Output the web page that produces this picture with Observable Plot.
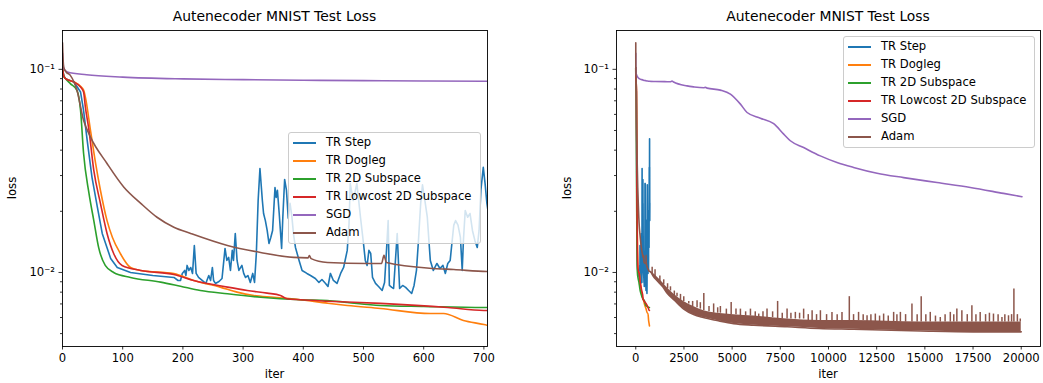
<!DOCTYPE html>
<html><head><meta charset="utf-8">
<script src="https://cdn.jsdelivr.net/npm/d3@7"></script>
<script src="https://cdn.jsdelivr.net/npm/@observablehq/plot@0.6"></script>
<style>
body{margin:0;background:#fff;font-family:"DejaVu Sans",sans-serif;color:#000;}
#wrap{position:relative;width:1043px;height:383px;overflow:hidden;background:#fff;}
.panel{position:absolute;top:0;}
.txt{position:absolute;white-space:nowrap;line-height:1;transform:translate(-50%,-50%);}
.legend{position:absolute;background:rgba(255,255,255,0.8);border:1px solid #cccccc;border-radius:3px;box-sizing:border-box;}
.legend .sw{position:absolute;height:1.6px;width:23px;}
.legend .lb{position:absolute;font-size:11.6px;line-height:1;transform:translateY(-50%);white-space:nowrap;}
</style></head>
<body><div id="wrap"></div>
<script>
// ---------- data ----------
const seriesNames = ["TR Step","TR Dogleg","TR 2D Subspace","TR Lowcost 2D Subspace","SGD","Adam"];
const seriesColors = ["#1f77b4","#ff7f0e","#2ca02c","#d62728","#9467bd","#8c564b"];
const titleText = "Autenecoder MNIST Test Loss";
const xLabel = "iter", yLabel = "loss";
const xTicksLeft = [0,100,200,300,400,500,600,700];
const xTicksRight = [0,2500,5000,7500,10000,12500,15000,17500,20000];
const yMajor = [0.01, 0.1];
const yMinor = [0.005,0.006,0.007,0.008,0.009,0.02,0.03,0.04,0.05,0.06,0.07,0.08,0.09];

const trStep = [[0,0.102],[2,0.093],[5,0.09],[19,0.0866],[30,0.0773],[35,0.0628],[41,0.0447],[49,0.0294],[58,0.0209],[66,0.01556],[80,0.01172],[91,0.01058],[113,0.01],[150,0.00966],[185,0.00945],[192,0.00913],
 [196,0.00913],[199,0.00989],[203,0.01023],[205,0.00966],[207,0.01083],[210,0.01023],[213,0.01058],[216,0.00989],[219,0.01358],[222,0.00989],[226,0.00945],[232,0.00913],[238,0.00883],[243,0.00966],[246,0.00913],[249,0.01058],[251,0.00913],[254,0.00883],[260,0.00903],[265,0.00934],[270,0.01313],[273,0.01146],[276,0.01186],[279,0.01023],[282,0.01284],[284,0.01146],[287,0.01556],[290,0.01146],[293,0.01023],[298,0.01083],[301,0.00989],[304,0.00945],[308,0.00966],[312,0.00893],[316,0.00989],[319,0.00893],[322,0.0124],[325,0.0226],[328,0.0325],[332,0.0226],[334,0.0195],[337,0.018],[340,0.0161],[343,0.01389],[346,0.01487],[349,0.0161],[353,0.0262],[355,0.0234],[357,0.0254],[360,0.0195],[364,0.01313],[366,0.0187],[369,0.0287],[372,0.0254],[375,0.0185],[378,0.0219],[381,0.0189],[384,0.01521],[387,0.01328],[393,0.01146],[398,0.01023],[406,0.00989],[412,0.00966],[420,0.00934],[426,0.00893],[431,0.00923],[437,0.00883],[441,0.00853],[445,0.00989],[450,0.00913],[456,0.00883],[462,0.00989],[467,0.01058],[473,0.01284],[476,0.0174],[478,0.0274],[483,0.0226],[489,0.0274],[495,0.0187],[500,0.01389],[503,0.01146],[506,0.01083],[509,0.01284],[512,0.0124],[515,0.00945],[520,0.00883],[525,0.00853],[531,0.00815],[535,0.00893],[538,0.0125],[541,0.018],[543,0.00863],[547,0.00844],[550,0.00834],[556,0.01556],[560,0.00834],[565,0.00863],[570,0.00844],[575,0.00815],[580,0.00788],[584,0.00863],[588,0.01023],[591,0.01389],[595,0.0219],[598,0.027],[602,0.0226],[606,0.0187],[609,0.01389],[611,0.01146],[616,0.01023],[622,0.01107],[627,0.01046],[632,0.01083],[636,0.00989],[640,0.01107],[644,0.01146],[647,0.01405],[650,0.0171],[653,0.018],[657,0.0171],[661,0.01487],[664,0.01023],[666,0.01438],[669,0.0202],[673,0.0187],[677,0.0195],[681,0.0161],[685,0.01438],[689,0.01328],[692,0.0161],[695,0.0254],[699,0.0329],[702,0.0274],[705,0.0219],[708,0.019],[712,0.028],[716,0.0455],[719,0.024],[722,0.033],[726,0.018],[730,0.022]];

const trDogleg = [[0,0.102],[2,0.093],[5,0.09],[19,0.0866],[30,0.0825],[35,0.079],[38,0.073],[46.5,0.0501],[55,0.0344],[63,0.0254],[74,0.018],[83,0.01487],[96,0.0124],[113,0.01058],[130,0.01023],[185,0.00989],[218,0.00913],[262,0.00847],[290,0.008],[318,0.0077],[351,0.00755],[395,0.00734],[440,0.00706],[473,0.00688],[528,0.00665],[611,0.00628],[633,0.00628],[666,0.0058],[700,0.00554],[710,0.00545]];

const tr2D = [[0,0.102],[2,0.093],[5,0.09],[13,0.085],[24,0.0788],[30,0.0628],[35,0.0386],[44,0.0245],[52,0.018],[60,0.01328],[71,0.01083],[85,0.01],[113,0.00945],[163,0.00896],[196,0.00855],[229,0.00815],[274,0.00785],[329,0.00755],[395,0.00734],[440,0.00728],[473,0.00712],[528,0.00688],[600,0.0068],[700,0.00672],[710,0.00672]];

const trLowcost = [[0,0.102],[2,0.093],[5,0.09],[19,0.0866],[30,0.0818],[35,0.0773],[38,0.0652],[44,0.0501],[52,0.0318],[63,0.0219],[74,0.01556],[85,0.0124],[99,0.01083],[130,0.01023],[185,0.00977],[218,0.00913],[274,0.00847],[307,0.00815],[340,0.00791],[362,0.0077],[373,0.00742],[395,0.00734],[440,0.00722],[528,0.00704],[640,0.00672],[700,0.0065],[710,0.0065]];

const sgd = [[0,0.12],[2,0.101],[8,0.097],[40,0.094],[100,0.0915],[200,0.0897],[300,0.089],[400,0.0884],[500,0.088],[600,0.0876],[700,0.0873],[935,0.0871],[1500,0.087],[1800,0.0868],[1880,0.0876],[1960,0.0866],[2660,0.0829],[3000,0.082],[3525,0.0812],[3620,0.0815],[3700,0.0808],[4390,0.079],[4910,0.0755],[5430,0.0674],[5775,0.0613],[6465,0.0575],[7155,0.054],[7675,0.048],[8020,0.0445],[8710,0.0412],[9575,0.0375],[10440,0.0348],[11300,0.0329],[12520,0.0308],[13900,0.0293],[15630,0.0277],[17360,0.0262],[19080,0.0245],[20040,0.0236]];

const adam = [[0,0.135],[1,0.112],[2,0.1026],[6,0.097],[13,0.0934],[24,0.0788],[35,0.0561],[46.5,0.0464],[74,0.0344],[102,0.0263],[130,0.0219],[157,0.0187],[185,0.0167],[213,0.01556],[274,0.01358],[329,0.01255],[384,0.01186],[408,0.0118],[410,0.0121],[413,0.0117],[440,0.0112],[506,0.01107],[530,0.01107],[534,0.01213],[538,0.0112],[617,0.01046],[650,0.01034],[706,0.01011],[762,0.0101],[900,0.0096],[1110,0.0091],[1400,0.0085],[1630,0.0079],[2000,0.0073],[2490,0.0066],[3000,0.0062],[3500,0.006],[4220,0.0058],[5080,0.0056],[6120,0.0055],[7850,0.0054],[9500,0.0053],[11300,0.00525],[14780,0.00515],[17500,0.0051],[20000,0.0051]];

// Adam noise band beyond ~700 iters: [iter, lower, upper]
const adamBand = [[706,0.01011,0.01011],[900,0.0096,0.0099],[1110,0.0091,0.0095],[1400,0.0085,0.0089],[1630,0.0079,0.0084],[2000,0.0073,0.0078],[2490,0.0066,0.0072],[3000,0.0062,0.0068],[3500,0.006,0.0065],[4220,0.0058,0.0063],[5080,0.0056,0.0062],[6120,0.0055,0.0061],[7850,0.0054,0.0059],[9500,0.0053,0.0058],[11300,0.00525,0.0058],[14780,0.00515,0.0057],[17500,0.0051,0.0057],[20000,0.0051,0.0057]];
// Adam spikes: [iter, base, top]
const adamSpikes = [[850,0.0098,0.0106],[1000,0.0095,0.0103],[1250,0.009,0.0096],[1450,0.0087,0.0092],[1650,0.0083,0.0088],[1800,0.0081,0.0085],[2000,0.0077,0.0081],[2140,0.0076,0.0079],[2320,0.0073,0.0078],[2490,0.0072,0.0076],[2750,0.007,0.0072],[2950,0.0068,0.0072],[3180,0.0067,0.00726],[3350,0.0066,0.0071],[3530,0.0065,0.00788],[3800,0.0064,0.0068],[4040,0.0063,0.007],[4250,0.0063,0.0067],[4390,0.0063,0.0068],[4700,0.0062,0.0066],[4950,0.0062,0.00712],[5200,0.0062,0.0066],[5430,0.0061,0.0066],[5700,0.0061,0.0064],[5950,0.0061,0.0066],[6200,0.006,0.0064],[6380,0.006,0.00624],[6600,0.006,0.0064],[6810,0.006,0.0066],[7100,0.006,0.0064],[7360,0.0059,0.0072],[7600,0.0059,0.0063],[7850,0.0059,0.0066],[8050,0.0059,0.0063],[8280,0.0059,0.00636],[8500,0.0059,0.0063],[8710,0.0059,0.0066],[8950,0.0058,0.0062],[9150,0.0058,0.00648],[9380,0.0058,0.0062],[9580,0.0058,0.00648],[9900,0.0058,0.0062],[10180,0.0058,0.00636],[10450,0.0058,0.0062],[10700,0.0058,0.00636],[11080,0.0058,0.0076],[11300,0.0058,0.0062],[11560,0.0058,0.00636],[11800,0.0058,0.0062],[12000,0.0057,0.00612],[12200,0.0057,0.0062],[12430,0.0057,0.00624],[12650,0.0057,0.0061],[12860,0.0057,0.00624],[13100,0.0057,0.0061],[13380,0.0057,0.00636],[13550,0.0057,0.0062],[13730,0.0057,0.00636],[14000,0.0057,0.0062],[14330,0.0057,0.00699],[14600,0.0057,0.0062],[14810,0.0057,0.0076],[15050,0.0057,0.0062],[15280,0.0057,0.00636],[15550,0.0057,0.0061],[15800,0.0057,0.006],[16050,0.0057,0.0062],[16320,0.0057,0.00636],[16500,0.0057,0.0062],[16660,0.0057,0.0066],[16920,0.0057,0.00648],[17200,0.0057,0.0062],[17440,0.0057,0.00686],[17650,0.0057,0.0062],[17870,0.0057,0.00636],[18150,0.0057,0.0062],[18350,0.0057,0.0063],[18560,0.0057,0.00624],[18800,0.0057,0.0062],[19000,0.0057,0.006],[19150,0.0057,0.0062],[19340,0.0057,0.00612],[19500,0.0057,0.0062],[19620,0.0057,0.00829],[19800,0.0057,0.0062],[19950,0.0057,0.0059]];

const seriesData = [trStep, trDogleg, tr2D, trLowcost, sgd, adam];
const seriesCurves = ["linear","monotone-x","monotone-x","monotone-x","monotone-x","monotone-x"];

// ---------- layout ----------
const yDomain = [0.00432, 0.1553];
const panels = [
  {left: 0, width: 520, ml: 62, mr: 33, xDomain: [0, 706], xTicks: xTicksLeft,
   legend: {left: 288, top: 132, width: 193, height: 112}},
  {left: 520, width: 523, ml: 96, mr: 3, xDomain: [-1000, 21000], xTicks: xTicksRight,
   legend: {left: 843, top: 36, width: 192, height: 112}}
];
const supFmt = d => d === 0.1 ? "10\u207B\u00B9" : "10\u207B\u00B2";
const wrap = document.getElementById("wrap");

function addText(txt, x, y, size, rotate) {
  const el = document.createElement("div");
  el.className = "txt";
  el.textContent = txt;
  el.style.left = x + "px";
  el.style.top = y + "px";
  el.style.fontSize = size + "px";
  if (rotate) el.style.transform = "translate(-50%,-50%) rotate(-90deg)";
  wrap.appendChild(el);
}

panels.forEach(p => {
  const marks = [];
  seriesData.forEach((data, i) => {
    if (i === 5) {
      marks.push(Plot.areaY(adamBand, {x: d => d[0], y1: d => d[1], y2: d => d[2], fill: seriesColors[5], curve: "monotone-x", clip: true}));
      marks.push(Plot.ruleX(adamSpikes, {x: d => d[0], y1: d => d[1], y2: d => d[2], stroke: seriesColors[5], strokeWidth: 1.5, clip: true}));
    }
    marks.push(Plot.line(data, {x: d => d[0], y: d => d[1], stroke: seriesColors[i], strokeWidth: 1.6, curve: seriesCurves[i], clip: true}));
  });
  marks.push(Plot.frame({stroke: "#000", strokeWidth: 0.9}));
  marks.push(Plot.axisY(yMinor, {tickSize: 2, tickFormat: () => "", label: null, strokeWidth: 0.8}));
  marks.push(Plot.axisY(yMajor, {tickSize: 3.5, tickPadding: 4, tickFormat: supFmt, label: null, strokeWidth: 0.8}));
  marks.push(Plot.axisX(p.xTicks, {tickSize: 3.5, tickPadding: 4, tickFormat: d => String(d), label: null, strokeWidth: 0.8}));

  const svg = Plot.plot({
    width: p.width, height: 383,
    marginLeft: p.ml, marginRight: p.mr, marginTop: 30, marginBottom: 37,
    style: {fontFamily: "'DejaVu Sans', sans-serif", fontSize: "11.6px", color: "#000", background: "transparent"},
    x: {domain: p.xDomain},
    y: {type: "log", domain: yDomain},
    marks
  });
  svg.classList.add("panel");
  svg.style.left = p.left + "px";
  wrap.appendChild(svg);

  const cx = p.left + p.ml + (p.width - p.ml - p.mr) / 2;
  addText(titleText, cx, 17, 13.9);
  addText(xLabel, cx, 375, 11.6);
  addText(yLabel, p.left + (p.left === 0 ? 13 : 48), 188, 11.6, true);

  // legend
  const lg = document.createElement("div");
  lg.className = "legend";
  Object.assign(lg.style, {left: p.legend.left + "px", top: p.legend.top + "px", width: p.legend.width + "px", height: p.legend.height + "px"});
  seriesNames.forEach((name, i) => {
    const sw = document.createElement("div");
    sw.className = "sw";
    sw.style.left = "4px";
    sw.style.top = (9.2 + 18 * i) + "px";
    sw.style.background = seriesColors[i];
    lg.appendChild(sw);
    const lb = document.createElement("div");
    lb.className = "lb";
    lb.style.left = "37px";
    lb.style.top = (10 + 18 * i) + "px";
    lb.textContent = name;
    lg.appendChild(lb);
  });
  wrap.appendChild(lg);
});
</script>
</body></html>
